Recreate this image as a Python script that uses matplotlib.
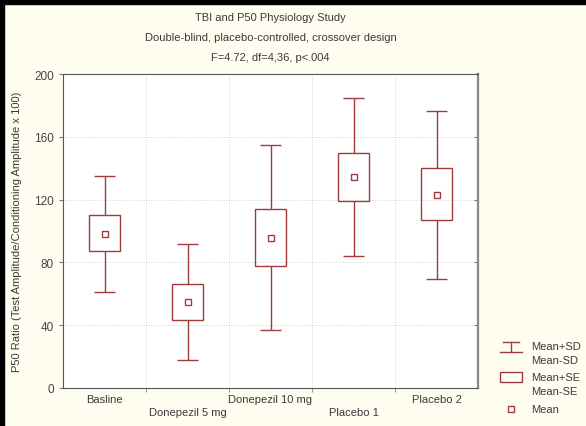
import matplotlib
matplotlib.use('Agg')
import matplotlib.pyplot as plt
from matplotlib.patches import Rectangle
from matplotlib.lines import Line2D
import numpy as np

plt.rcParams['font.family'] = ['Liberation Sans', 'DejaVu Sans']

groups = ['Basline', 'Donepezil 5 mg', 'Donepezil 10 mg', 'Placebo 1', 'Placebo 2']
means = [98.0, 54.6, 95.7, 134.2, 123.1]
se_hi = [110.0, 66.4, 114.2, 150.0, 140.1]
se_lo = [87.3, 43.3, 77.7, 119.0, 106.8]
sd_hi = [135.2, 91.7, 154.8, 184.5, 176.2]
sd_lo = [61.3, 17.8, 37.0, 84.3, 69.6]

red = '#a03c3c'
txt = '#3a3a3a'
bg = '#fffcf0'
fs = 8

fig = plt.figure(figsize=(5.86, 4.27), dpi=100, facecolor=bg)
# black frame at top/left like the screenshot
fig.patches.append(Rectangle((0, 1 - 5/427), 1, 5/427, transform=fig.transFigure, color='black', zorder=0))
fig.patches.append(Rectangle((0, 0), 4/586, 1, transform=fig.transFigure, color='black', zorder=0))

ax = fig.add_axes([63/586, 38/427, 415/586, 314/427])
ax.set_facecolor('white')

x = np.arange(len(groups))
box_w = 0.38
cap_w = 0.25

# whiskers (Mean +/- SD)
ax.vlines(x, sd_lo, se_lo, color=red, lw=1)
ax.vlines(x, se_hi, sd_hi, color=red, lw=1)
ax.hlines(sd_hi, x - cap_w/2, x + cap_w/2, color=red, lw=1)
ax.hlines(sd_lo, x - cap_w/2, x + cap_w/2, color=red, lw=1)
# boxes (Mean +/- SE)
ax.bar(x, np.array(se_hi) - np.array(se_lo), bottom=se_lo, width=box_w,
       facecolor='none', edgecolor=red, lw=1, zorder=3)
# means
ax.plot(x, means, 's', ms=5, mfc='none', mec=red, mew=1, zorder=4)

ax.set_xlim(-0.5, len(groups) - 0.5)
ax.set_ylim(0, 200)
ax.set_yticks(np.arange(0, 201, 40))
ax.set_xticks(np.arange(len(groups) - 1) + 0.5)
ax.set_xticklabels([])
ax.tick_params(axis='y', which='both', labelsize=8.5, labelcolor='#444444', colors='#777777', length=3, direction='out')
ax.tick_params(axis='y', right=True)
ax.tick_params(axis='x', length=3, colors='#999999')
ax.grid(True, color='#d4d4d4', ls=(0, (1, 1.5)), lw=0.7)
ax.set_axisbelow(True)
for s in ax.spines.values():
    s.set_color('#555555')
ax.spines['right'].set_color('#888888')
ax.spines['right'].set_linewidth(1.6)
for t in ax.yaxis.get_major_ticks():
    t.tick2line.set_marker(matplotlib.lines.TICKLEFT)
    t.tick2line.set_markersize(3)

# staggered category labels
for i, g in enumerate(groups):
    off = -0.035 if i % 2 == 0 else -0.077
    ax.text(i, off, g, transform=ax.get_xaxis_transform(), ha='center', va='center',
            fontsize=fs, color=txt)

ax.set_ylabel('P50 Ratio (Test Amplitude/Conditioning Amplitude x 100)', fontsize=fs, color=txt, labelpad=9)

cx = 0.5 * (63 + 478) / 586
fig.text(cx, 1 - 18/427, 'TBI and P50 Physiology Study', ha='center', va='center', fontsize=fs, color=txt)
fig.text(cx, 1 - 38/427, 'Double-blind, placebo-controlled, crossover design', ha='center', va='center', fontsize=fs, color=txt)
fig.text(cx, 1 - 58/427, 'F=4.72, df=4,36, p<.004', ha='center', va='center', fontsize=fs, color=txt)

# legend drawn by hand
def fx(px):
    return px / 586
def fy(py):
    return 1 - py / 427

fig.add_artist(Line2D([fx(503), fx(519)], [fy(343), fy(343)], color=red, lw=1))
fig.add_artist(Line2D([fx(511), fx(511)], [fy(343), fy(353)], color=red, lw=1))
fig.add_artist(Line2D([fx(500), fx(522)], [fy(353), fy(353)], color=red, lw=1))
fig.add_artist(Rectangle((fx(500), fy(383)), fx(22), 10/427, transform=fig.transFigure,
                         facecolor='white', edgecolor=red, lw=1))
fig.add_artist(Line2D([fx(511)], [fy(410)], marker='s', ms=4.5, mfc='none', mec=red, mew=1))
for label, py in [('Mean+SD', 347), ('Mean-SD', 361), ('Mean+SE', 378), ('Mean-SE', 392), ('Mean', 410)]:
    fig.text(fx(531), fy(py), label, ha='left', va='center', fontsize=fs, color=txt)

fig.savefig('out.png', dpi=100, facecolor=bg)
